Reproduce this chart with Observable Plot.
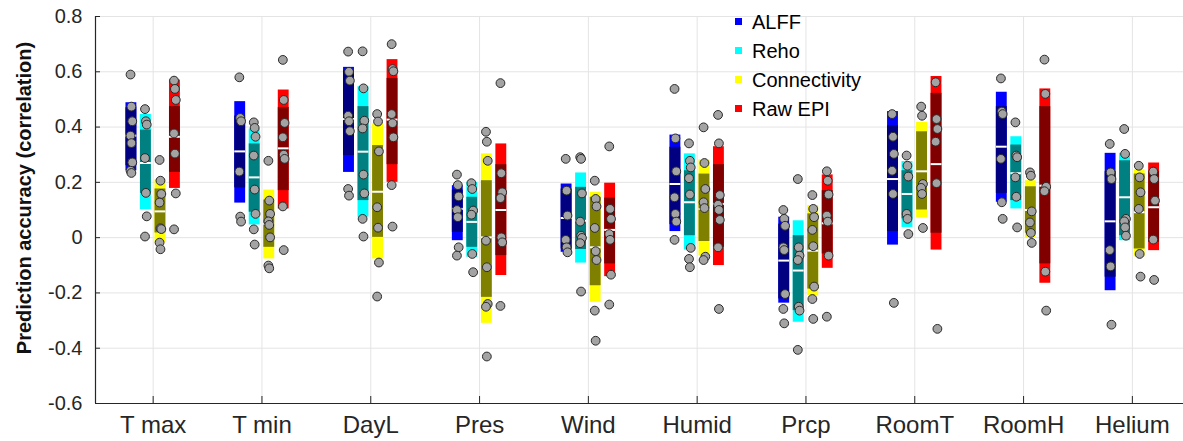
<!DOCTYPE html>
<html><head><meta charset="utf-8">
<script src="https://cdn.jsdelivr.net/npm/d3@7"></script>
<script src="https://cdn.jsdelivr.net/npm/@observablehq/plot@0.6"></script>
<style>
body{margin:0;background:#fff;font-family:"Liberation Sans",Arial,sans-serif;}
#wrap{position:relative;width:1183px;height:441px;overflow:hidden;}
#legend{position:absolute;left:735px;top:8px;font-size:20px;color:#000;line-height:29px;}
#legend .sw{display:inline-block;width:7px;height:7px;margin-right:10px;vertical-align:middle;position:relative;top:-2px;}
</style></head><body>
<div id="wrap"><div id="chart"></div><div id="legend"></div></div>
<script>
// ---- data ----
const groups = ["T max","T min","DayL","Pres","Wind","Humid","Prcp","RoomT","RoomH","Helium"];
const methods = ["ALFF","Reho","Connectivity","Raw EPI"];
const outerColors = ["#0000ff","#00ffff","#ffff00","#ff0000"];
const innerColors = ["#000080","#008080","#808000","#800000"];
const yTicks = [-0.6,-0.4,-0.2,0,0.2,0.4,0.6,0.8];
const yLabel = "Prediction accuracy (correlation)";

const alffMean = [0.369,0.312,0.429,0.104,0.071,0.194,-0.083,0.212,0.329,0.059];
const alffSd = [[0.242,0.488],[0.125,0.492],[0.236,0.616],[-0.011,0.188],[-0.053,0.194],[0.022,0.371],[-0.237,0.074],[-0.027,0.456],[0.128,0.526],[-0.192,0.305]];
const alffCi = [[0.26,0.47],[0.18,0.44],[0.297,0.604],[0.019,0.172],[-0.041,0.176],[0.047,0.327],[-0.222,0.049],[0.022,0.405],[0.160,0.474],[-0.143,0.239]];
const alffPts = [
  [0.590,0.474,0.421,0.369,0.342,0.272,0.242,0.234],
  [0.580,0.433,0.421,0.239,0.076,0.058],
  [0.673,0.600,0.568,0.441,0.421,0.385,0.176,0.152],
  [0.228,0.190,0.149,0.100,0.074,-0.035,-0.065],
  [0.285,0.170,0.080,-0.008,-0.035,-0.053],
  [0.538,0.359,0.240,0.146,0.086,0.058,-0.008],
  [0.100,0.068,0.043,-0.035,-0.045,-0.204,-0.258,-0.310],
  [0.447,0.365,0.303,0.242,0.158,-0.236],
  [0.576,0.456,0.447,0.285,0.128,0.068],
  [0.339,0.236,0.212,-0.045,-0.104,-0.315]];

const rehoMean = [0.270,0.218,0.311,0.057,0.061,0.128,-0.119,0.158,0.233,0.146];
const rehoSd = [[0.101,0.446],[0.046,0.393],[0.074,0.546],[-0.071,0.200],[-0.092,0.234],[-0.045,0.303],[-0.306,0.061],[0.037,0.275],[0.104,0.365],[-0.011,0.305]];
const rehoCi = [[0.160,0.389],[0.092,0.339],[0.134,0.474],[-0.035,0.146],[-0.043,0.182],[0.007,0.242],[-0.264,0.007],[0.068,0.242],[0.134,0.335],[0.007,0.278]];
const rehoPts = [
  [0.465,0.421,0.409,0.288,0.162,0.077,0.004],
  [0.417,0.397,0.365,0.297,0.174,0.086,0.030,-0.025],
  [0.674,0.540,0.423,0.395,0.228,0.160,0.068,0.004],
  [0.197,0.176,0.098,0.083,-0.059,-0.125],
  [0.291,0.285,0.160,0.058,0.007,-0.001,-0.020,-0.195],
  [0.341,0.278,0.254,0.215,0.156,-0.037,-0.077,-0.107],
  [0.212,-0.035,-0.065,-0.081,-0.250,-0.264,-0.406],
  [0.297,0.260,0.221,0.086,0.068,0.013],
  [0.417,0.297,0.291,0.218,0.148,0.037],
  [0.393,0.303,0.068,0.059,0.037,0.007]];

const connMean = [0.095,0.050,0.166,0.001,-0.035,0.104,-0.047,0.240,0.100,0.092];
const connSd = [[-0.019,0.210],[-0.077,0.172],[-0.077,0.411],[-0.310,0.303],[-0.234,0.164],[-0.065,0.281],[-0.210,0.116],[0.071,0.417],[-0.001,0.206],[-0.069,0.245]];
const connCi = [[0.017,0.176],[-0.035,0.136],[0.001,0.333],[-0.216,0.206],[-0.174,0.146],[-0.014,0.230],[-0.186,0.086],[0.100,0.383],[0.016,0.184],[-0.041,0.230]];
const connPts = [
  [0.281,0.206,0.158,0.127,0.034,0.031,-0.018,-0.042],
  [0.278,0.134,0.086,0.059,0.046,0.001,-0.101,-0.111],
  [0.447,0.420,0.312,0.110,0.036,-0.090,-0.213],
  [0.383,0.347,0.278,-0.011,-0.107,-0.240,-0.250,-0.430],
  [0.206,0.140,0.113,0.035,-0.049,-0.081,-0.264,-0.373],
  [0.399,0.270,0.176,0.128,0.107,-0.069,-0.081],
  [0.154,0.104,0.074,0.028,-0.031,-0.177,-0.222,-0.294],
  [0.474,0.441,0.194,0.180,0.158,0.035],
  [0.236,0.224,0.095,0.055,0.017,-0.019],
  [0.260,0.218,0.164,0.104,-0.059,-0.141]];

const rawMean = [0.365,0.323,0.427,0.100,0.028,0.122,0.052,0.266,0.188,0.110];
const rawSd = [[0.178,0.570],[0.104,0.534],[0.200,0.644],[-0.137,0.339],[-0.141,0.197],[-0.101,0.329],[-0.111,0.227],[-0.045,0.583],[-0.165,0.538],[-0.047,0.270]];
const rawCi = [[0.236,0.474],[0.170,0.471],[0.264,0.576],[-0.065,0.264],[-0.095,0.143],[-0.035,0.264],[-0.059,0.170],[0.016,0.522],[-0.095,0.474],[-0.017,0.240]];
const rawPts = [
  [0.568,0.538,0.498,0.377,0.304,0.160,0.030],
  [0.643,0.498,0.415,0.363,0.300,0.285,0.113,-0.045],
  [0.700,0.610,0.602,0.447,0.414,0.363,0.190,0.040],
  [0.559,0.233,0.164,0.143,0.001,-0.017,-0.247],
  [0.330,0.104,0.068,0.013,-0.008,-0.134,-0.242],
  [0.444,0.341,0.154,0.119,0.100,0.064,-0.035,-0.258],
  [0.240,0.206,0.156,0.080,0.058,-0.065,-0.286],
  [0.562,0.429,0.393,0.347,0.197,-0.330],
  [0.644,0.520,0.184,0.168,-0.123,-0.264],
  [0.239,0.212,0.134,-0.007,-0.153]];

// ---- layout config ----
const offsets = [-0.2,-0.067,0.067,0.2];
const halfW = 0.05;
const xDomain = [0.47, 10.47];
const yDomain = [-0.6, 0.8];

const seriesData = [
  {mean: alffMean, sd: alffSd, ci: alffCi, pts: alffPts},
  {mean: rehoMean, sd: rehoSd, ci: rehoCi, pts: rehoPts},
  {mean: connMean, sd: connSd, ci: connCi, pts: connPts},
  {mean: rawMean, sd: rawSd, ci: rawCi, pts: rawPts}
];

const boxes = [], points = [];
seriesData.forEach((s, m) => {
  groups.forEach((g, i) => {
    const xc = i + 1 + offsets[m];
    boxes.push({xc, xa: xc - halfW, xb: xc + halfW, mean: s.mean[i],
      sdLo: s.sd[i][0], sdHi: s.sd[i][1], ciLo: s.ci[i][0], ciHi: s.ci[i][1],
      outer: outerColors[m], inner: innerColors[m]});
    s.pts[i].forEach((v, j) => {
      points.push({x: xc + ((j % 3) - 1) * 0.008, y: v});
    });
  });
});
const groupIdx = groups.map((g, i) => i + 1);

const gridColor = "#e4e4e4";
const axisColor = "#262626";
const pxX = (xDomain[1]-xDomain[0]) / 1088;
const pxY = (yDomain[1]-yDomain[0]) / 387;

const chart = Plot.plot({
  width: 1183, height: 441,
  marginLeft: 95, marginRight: 0, marginTop: 16, marginBottom: 38,
  x: {domain: xDomain},
  y: {domain: yDomain},
  color: {type: "identity"},
  style: {fontFamily: "'Liberation Sans', Arial, sans-serif", background: "white", color: axisColor},
  marks: [
    Plot.ruleY(yTicks.filter(t => t > yDomain[0]), {stroke: gridColor, strokeWidth: 1}),
    Plot.ruleX(groupIdx, {stroke: gridColor, strokeWidth: 1}),
    Plot.rect(boxes, {x1: "xa", x2: "xb", y1: "sdLo", y2: "sdHi", fill: "outer"}),
    Plot.rect(boxes, {x1: "xa", x2: "xb", y1: "ciLo", y2: "ciHi", fill: "inner"}),
    Plot.ruleY(boxes, {x1: "xa", x2: "xb", y: "mean", stroke: "white", strokeWidth: 2}),
    Plot.dot(points, {x: "x", y: "y", r: 4.4, fill: "#a3a3a3", stroke: "#2a2a2a", strokeWidth: 1}),
    Plot.ruleX([xDomain[0]], {stroke: axisColor, strokeWidth: 1.2}),
    Plot.ruleY([yDomain[0]], {stroke: axisColor, strokeWidth: 1.2}),
    Plot.ruleY(yTicks, {x1: xDomain[0], x2: xDomain[0] + 5*pxX, stroke: axisColor}),
    Plot.ruleX(groupIdx, {y1: yDomain[0], y2: yDomain[0] + 7*pxY, stroke: axisColor}),
    Plot.axisY({ticks: yTicks, tickSize: 0, tickPadding: 13, fontSize: 20, label: null,
      tickFormat: d => d === 0 ? "0" : d.toFixed(1)}),
    Plot.axisX({ticks: groupIdx, tickSize: 0, tickPadding: 12, fontSize: 24, label: null,
      tickFormat: i => groups[i - 1]}),
    Plot.text([yLabel], {frameAnchor: "left", textAnchor: "middle", text: d => d, rotate: -90, dx: -71, dy: -12,
      fontWeight: "bold", fontSize: 20, fill: "#111"})
  ]
});
document.getElementById("chart").appendChild(chart);

const legend = document.getElementById("legend");
methods.forEach((m, i) => {
  const row = document.createElement("div");
  const sw = document.createElement("span");
  sw.className = "sw";
  sw.style.background = outerColors[i];
  row.appendChild(sw);
  row.appendChild(document.createTextNode(m));
  legend.appendChild(row);
});
</script>
</body></html>
